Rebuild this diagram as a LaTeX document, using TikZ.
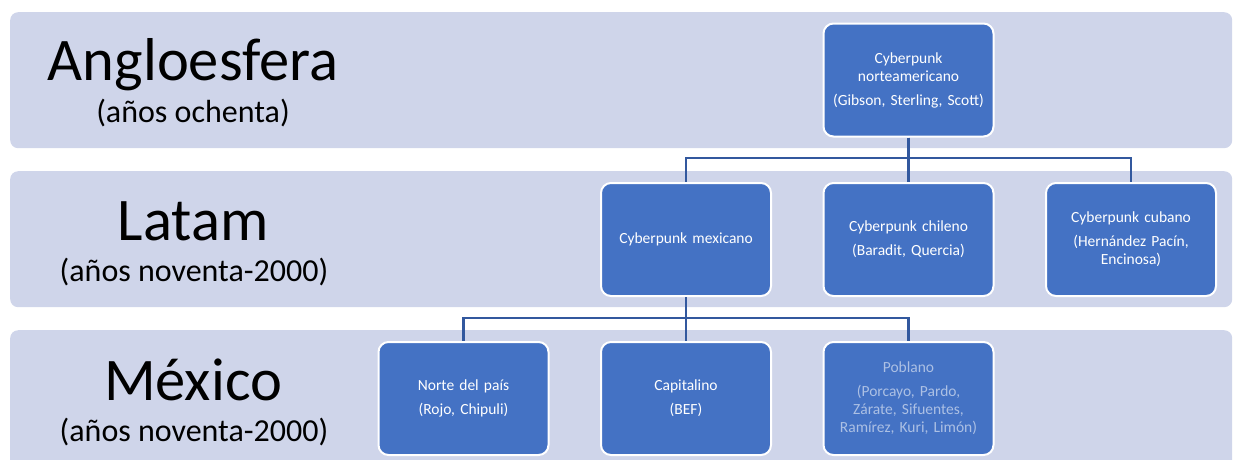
\documentclass[tikz,border=0pt]{standalone}
\usepackage{fontspec}
\setmainfont{Carlito}
\usetikzlibrary{positioning}
\definecolor{cband}{RGB}{207,213,234}
\definecolor{cbox}{RGB}{68,114,196}
\definecolor{clink}{RGB}{50,88,158}
\definecolor{cfade}{RGB}{172,192,228}

\begin{document}
\begin{tikzpicture}[x=1pt,y=-1pt,
          every node/.style={font=\fontsize{15.5}{18}\selectfont},
          band/.style={fill=cband, rounded corners=8pt, inner sep=0pt,
          minimum width=1222pt, minimum height=136pt, anchor=north west},
          era/.style={font=\fontsize{60.5}{60.5}\selectfont, inner sep=0pt, anchor=base},
          eranote/.style={font=\fontsize{32}{32}\selectfont, inner sep=0pt, anchor=base},
          box/.style={draw=white, line width=2pt, fill=cbox, rounded corners=10pt,
          text=white, minimum width=170pt, minimum height=113pt,
          text width=164pt, align=center, inner sep=1pt},
          faded/.style={box, text=cfade},
          link/.style={draw=clink, line width=2.2pt},
        ]
          \useasboundingbox (0,0) rectangle (1233,459);

          \def\dx{222.5}

          % ── Bands ────────────────────────────────────────────
          \node[band] (bandA) at (10,12)  {};
          \node[band] (bandB) at (10,171) {};
          \node[band, minimum height=150pt] (bandC) at (10,330) {};

          % ── Era labels (left) ────────────────────────────────
          \node[era]     (angl)  at (193,80)  {Angloesfera};
          \node[eranote] (anglY) at (193,122) {(años ochenta)};
          \node[era]     (lat)   at (193,240) {Latam};
          \node[eranote] (latY)  at (194,281) {(años noventa-2000)};
          \node[era]     (mex0)  at (193,400) {México};
          \node[eranote] (mexY)  at (194,441) {(años noventa-2000)};

          % ── Tree ─────────────────────────────────────────────
          \node[box] (nam) at (908.5,80)
            {Cyberpunk\\norteamericano\\[6pt](Gibson, Sterling, Scott)};

          \node[box] (mex) at (686,239.5)  {Cyberpunk mexicano};
          \node[box] (chi) at (686+\dx,239.5)
            {Cyberpunk chileno\\[6pt](Baradit, Quercia)};
          \node[box] (cub) at (686+2*\dx,239.5)
            {Cyberpunk cubano\\[6pt](Hernández Pacín,\\Encinosa)};

          \node[box] (nor) at (686-\dx,398.5)
            {Norte del país\\[6pt](Rojo, Chipuli)};
          \node[box] (cap) at (686,398.5)  {Capitalino\\[6pt](BEF)};
          \node[faded] (pob) at (686+\dx,398.5)
            {Poblano\\[6pt](Porcayo, Pardo,\\Zárate, Sifuentes,\\Ramírez, Kuri, Limón)};

          % ── Connectors ───────────────────────────────────────
          \coordinate (jA) at (908.5,158);
          \coordinate (jB) at (686,318);
          \draw[link] (nam.south) -- (nam.south |- jA) -| (mex.north);
          \draw[link] (nam.south |- jA) -| (cub.north);
          \draw[link] (nam.south) -- (chi.north);
          \draw[link] (mex.south) -- (mex.south |- jB) -| (nor.north);
          \draw[link] (mex.south |- jB) -| (pob.north);
          \draw[link] (mex.south) -- (cap.north);

        \end{tikzpicture}
\end{document}
